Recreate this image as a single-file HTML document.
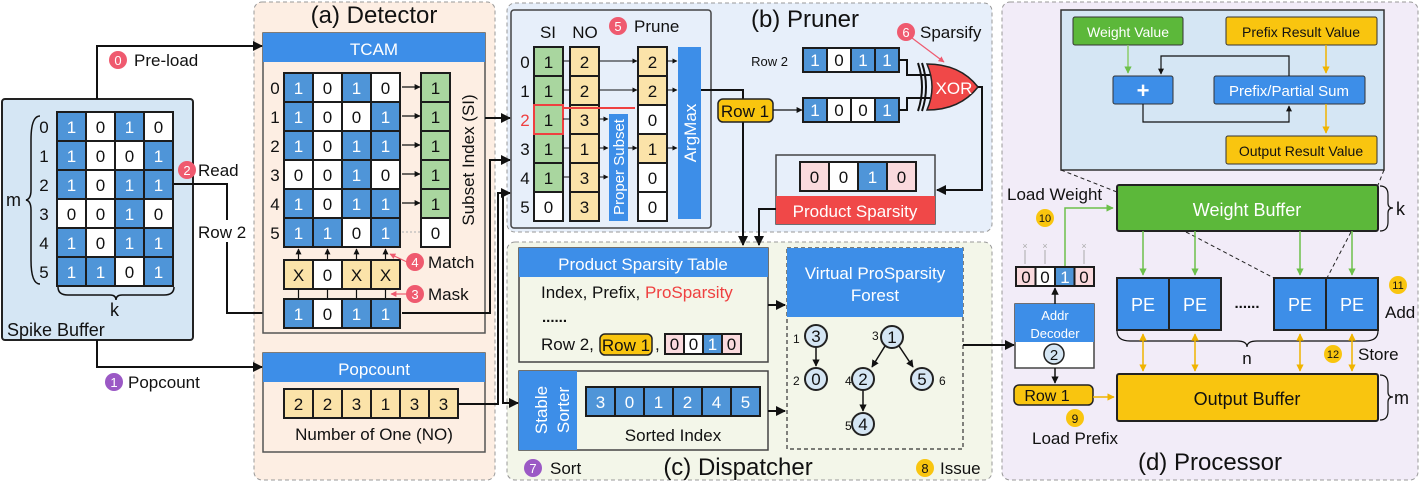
<!DOCTYPE html>
<html><head><meta charset="utf-8"><style>
html,body{margin:0;padding:0;background:#fff}
svg{display:block;font-family:"Liberation Sans",sans-serif}
.b{fill:#4f95d8;stroke:#1c1c1c;stroke-width:2}
.w{fill:#fff;stroke:#1c1c1c;stroke-width:2}
.g{fill:#a9d69f;stroke:#1c1c1c;stroke-width:2}
.y{fill:#fbe3a9;stroke:#1c1c1c;stroke-width:2}
.p{fill:#fadadd;stroke:#1c1c1c;stroke-width:2}
.tw{fill:#fff;font-size:17px;text-anchor:middle}
.tk{fill:#111;font-size:17px;text-anchor:middle}
.ln{fill:none;stroke:#111;stroke-width:2}
.lbl{font-size:16px;fill:#111}
.hd{fill:#3d8ee8}
.ht{fill:#fff;font-size:17px;text-anchor:middle}
</style></head><body>
<svg width="1420" height="483" viewBox="0 0 1420 483" xmlns="http://www.w3.org/2000/svg">
<defs>
<marker id="a" viewBox="0 0 10 10" refX="9" refY="5" markerWidth="5" markerHeight="5" orient="auto"><path d="M0,0L10,5L0,10z" fill="#111"/></marker>
<marker id="ag" viewBox="0 0 10 10" refX="9" refY="5" markerWidth="5" markerHeight="5" orient="auto"><path d="M0,0L10,5L0,10z" fill="#6cc04a"/></marker>
<marker id="ay" viewBox="0 0 10 10" refX="9" refY="5" markerWidth="5" markerHeight="5" orient="auto-start-reverse"><path d="M0,0L10,5L0,10z" fill="#f0b400"/></marker>
<marker id="ar" viewBox="0 0 10 10" refX="9" refY="5" markerWidth="5" markerHeight="5" orient="auto"><path d="M0,0L10,5L0,10z" fill="#ef5a6f"/></marker>
</defs>

<!-- panels -->
<rect x="254" y="2" width="241" height="478" rx="8" fill="#fdeee3" stroke="#999" stroke-dasharray="4,3"/>
<rect x="507" y="3" width="485" height="229" rx="8" fill="#e7effa" stroke="#999" stroke-dasharray="4,3"/>
<rect x="507" y="242" width="485" height="238" rx="8" fill="#f3f6e9" stroke="#999" stroke-dasharray="4,3"/>
<rect x="1002" y="2" width="416" height="478" rx="8" fill="#f2ecf8" stroke="#999" stroke-dasharray="4,3"/>

<!-- Spike buffer -->
<rect x="2" y="99" width="191" height="241" rx="3" fill="#d5e6f4" stroke="#222" stroke-width="2"/>
<g transform="translate(57,112)">
<rect class="b" x="0" y="0" width="29" height="29"/><text class="tw" x="14.5" y="21">1</text>
<rect class="w" x="29" y="0" width="29" height="29"/><text class="tk" x="43.5" y="21">0</text>
<rect class="b" x="58" y="0" width="29" height="29"/><text class="tw" x="72.5" y="21">1</text>
<rect class="w" x="87" y="0" width="29" height="29"/><text class="tk" x="101.5" y="21">0</text>
<rect class="b" x="0" y="29" width="29" height="29"/><text class="tw" x="14.5" y="50">1</text>
<rect class="w" x="29" y="29" width="29" height="29"/><text class="tk" x="43.5" y="50">0</text>
<rect class="w" x="58" y="29" width="29" height="29"/><text class="tk" x="72.5" y="50">0</text>
<rect class="b" x="87" y="29" width="29" height="29"/><text class="tw" x="101.5" y="50">1</text>
<rect class="b" x="0" y="58" width="29" height="29"/><text class="tw" x="14.5" y="79">1</text>
<rect class="w" x="29" y="58" width="29" height="29"/><text class="tk" x="43.5" y="79">0</text>
<rect class="b" x="58" y="58" width="29" height="29"/><text class="tw" x="72.5" y="79">1</text>
<rect class="b" x="87" y="58" width="29" height="29"/><text class="tw" x="101.5" y="79">1</text>
<rect class="w" x="0" y="87" width="29" height="29"/><text class="tk" x="14.5" y="108">0</text>
<rect class="w" x="29" y="87" width="29" height="29"/><text class="tk" x="43.5" y="108">0</text>
<rect class="b" x="58" y="87" width="29" height="29"/><text class="tw" x="72.5" y="108">1</text>
<rect class="w" x="87" y="87" width="29" height="29"/><text class="tk" x="101.5" y="108">0</text>
<rect class="b" x="0" y="116" width="29" height="29"/><text class="tw" x="14.5" y="137">1</text>
<rect class="w" x="29" y="116" width="29" height="29"/><text class="tk" x="43.5" y="137">0</text>
<rect class="b" x="58" y="116" width="29" height="29"/><text class="tw" x="72.5" y="137">1</text>
<rect class="b" x="87" y="116" width="29" height="29"/><text class="tw" x="101.5" y="137">1</text>
<rect class="b" x="0" y="145" width="29" height="29"/><text class="tw" x="14.5" y="166">1</text>
<rect class="b" x="29" y="145" width="29" height="29"/><text class="tw" x="43.5" y="166">1</text>
<rect class="w" x="58" y="145" width="29" height="29"/><text class="tk" x="72.5" y="166">0</text>
<rect class="b" x="87" y="145" width="29" height="29"/><text class="tw" x="101.5" y="166">1</text>
</g>
<g class="tk" style="font-size:17px"><text x="44" y="133">0</text><text x="44" y="162">1</text><text x="44" y="191">2</text><text x="44" y="220">3</text><text x="44" y="249">4</text><text x="44" y="278">5</text></g>
<path class="ln" style="stroke-width:1.5" d="M40,116 Q31,116 31,140 L31,190 Q31,199 26,200 Q31,201 31,210 L31,260 Q31,284 40,284"/>
<text class="lbl" x="6" y="206" style="font-size:18px">m</text>
<path class="ln" style="stroke-width:1.5" d="M58,287 Q58,295 68,295 L110,295 Q116,295 116,300 Q116,295 122,295 L164,295 Q174,295 174,287"/>
<text class="lbl" x="110" y="316" style="font-size:18px">k</text>
<text class="lbl" x="7" y="336" style="font-size:18px">Spike Buffer</text>

<!-- connectors left -->
<path class="ln" d="M97,99 V46 H262" marker-end="url(#a)"/>
<circle cx="118" cy="60" r="9" fill="#ef5a6f"/><text class="tw" x="118" y="65" style="font-size:13px">0</text>
<text class="lbl" x="134" y="66" style="font-size:17px">Pre-load</text>
<path class="ln" d="M174,184 H227 V313 H283" marker-end="url(#a)"/>
<rect x="196" y="220" width="52" height="22" fill="#fff"/>
<text class="lbl" x="198" y="238" style="font-size:17px">Row 2</text>
<circle cx="187" cy="170" r="9" fill="#ef5a6f"/><text class="tw" x="187" y="175" style="font-size:13px">2</text>
<text class="lbl" x="198" y="176" style="font-size:17px">Read</text>
<path class="ln" d="M97,340 V367 H262" marker-end="url(#a)"/>
<circle cx="114" cy="382" r="9" fill="#9b59c5"/><text class="tw" x="114" y="387" style="font-size:13px">1</text>
<text class="lbl" x="128" y="388" style="font-size:17px">Popcount</text>

<!-- Detector -->
<text class="lbl" x="374" y="23" text-anchor="middle" style="font-size:24px">(a) Detector</text>
<rect x="263" y="33" width="222" height="300" fill="#fdeee3" stroke="#555" stroke-width="1.5"/>
<rect x="263" y="33" width="222" height="29" class="hd"/><text class="ht" x="374" y="55">TCAM</text>
<g class="tk" style="font-size:17px"><text x="275" y="94">0</text><text x="275" y="123">1</text><text x="275" y="152">2</text><text x="275" y="181">3</text><text x="275" y="210">4</text><text x="275" y="239">5</text></g>
<g transform="translate(284,73)">
<rect class="b" x="0" y="0" width="29" height="29"/><text class="tw" x="14.5" y="21">1</text>
<rect class="w" x="29" y="0" width="29" height="29"/><text class="tk" x="43.5" y="21">0</text>
<rect class="b" x="58" y="0" width="29" height="29"/><text class="tw" x="72.5" y="21">1</text>
<rect class="w" x="87" y="0" width="29" height="29"/><text class="tk" x="101.5" y="21">0</text>
<rect class="b" x="0" y="29" width="29" height="29"/><text class="tw" x="14.5" y="50">1</text>
<rect class="w" x="29" y="29" width="29" height="29"/><text class="tk" x="43.5" y="50">0</text>
<rect class="w" x="58" y="29" width="29" height="29"/><text class="tk" x="72.5" y="50">0</text>
<rect class="b" x="87" y="29" width="29" height="29"/><text class="tw" x="101.5" y="50">1</text>
<rect class="b" x="0" y="58" width="29" height="29"/><text class="tw" x="14.5" y="79">1</text>
<rect class="w" x="29" y="58" width="29" height="29"/><text class="tk" x="43.5" y="79">0</text>
<rect class="b" x="58" y="58" width="29" height="29"/><text class="tw" x="72.5" y="79">1</text>
<rect class="b" x="87" y="58" width="29" height="29"/><text class="tw" x="101.5" y="79">1</text>
<rect class="w" x="0" y="87" width="29" height="29"/><text class="tk" x="14.5" y="108">0</text>
<rect class="w" x="29" y="87" width="29" height="29"/><text class="tk" x="43.5" y="108">0</text>
<rect class="b" x="58" y="87" width="29" height="29"/><text class="tw" x="72.5" y="108">1</text>
<rect class="w" x="87" y="87" width="29" height="29"/><text class="tk" x="101.5" y="108">0</text>
<rect class="b" x="0" y="116" width="29" height="29"/><text class="tw" x="14.5" y="137">1</text>
<rect class="w" x="29" y="116" width="29" height="29"/><text class="tk" x="43.5" y="137">0</text>
<rect class="b" x="58" y="116" width="29" height="29"/><text class="tw" x="72.5" y="137">1</text>
<rect class="b" x="87" y="116" width="29" height="29"/><text class="tw" x="101.5" y="137">1</text>
<rect class="b" x="0" y="145" width="29" height="29"/><text class="tw" x="14.5" y="166">1</text>
<rect class="b" x="29" y="145" width="29" height="29"/><text class="tw" x="43.5" y="166">1</text>
<rect class="w" x="58" y="145" width="29" height="29"/><text class="tk" x="72.5" y="166">0</text>
<rect class="b" x="87" y="145" width="29" height="29"/><text class="tw" x="101.5" y="166">1</text>
<!-- arrows to SI -->
<path class="ln" style="stroke-width:1.2" d="M118,14H136" marker-end="url(#a)"/>
<path class="ln" style="stroke-width:1.2" d="M118,43H136" marker-end="url(#a)"/>
<path class="ln" style="stroke-width:1.2" d="M118,72H136" marker-end="url(#a)"/>
<path class="ln" style="stroke-width:1.2" d="M118,101H136" marker-end="url(#a)"/>
<path class="ln" style="stroke-width:1.2" d="M118,130H136" marker-end="url(#a)"/>
<path d="M118,159H136" stroke="#bbb" stroke-width="1.2" stroke-dasharray="2,2"/>
<!-- SI -->
<rect class="g" x="137" y="0" width="29" height="29"/><text class="tk" x="151.5" y="21">1</text>
<rect class="g" x="137" y="29" width="29" height="29"/><text class="tk" x="151.5" y="50">1</text>
<rect class="g" x="137" y="58" width="29" height="29"/><text class="tk" x="151.5" y="79">1</text>
<rect class="g" x="137" y="87" width="29" height="29"/><text class="tk" x="151.5" y="108">1</text>
<rect class="g" x="137" y="116" width="29" height="29"/><text class="tk" x="151.5" y="137">1</text>
<rect class="w" x="137" y="145" width="29" height="29"/><text class="tk" x="151.5" y="166">0</text>
<!-- mask -->
<rect class="y" x="0" y="187" width="29" height="29"/><text class="tk" x="14.5" y="208">X</text>
<rect class="w" x="29" y="187" width="29" height="29"/><text class="tk" x="43.5" y="208">0</text>
<rect class="y" x="58" y="187" width="29" height="29"/><text class="tk" x="72.5" y="208">X</text>
<rect class="y" x="87" y="187" width="29" height="29"/><text class="tk" x="101.5" y="208">X</text>
<path class="ln" style="stroke-width:1.2" d="M14.5,187V176" marker-end="url(#a)"/>
<path class="ln" style="stroke-width:1.2" d="M43.5,187V176" marker-end="url(#a)"/>
<path class="ln" style="stroke-width:1.2" d="M72.5,187V176" marker-end="url(#a)"/>
<path class="ln" style="stroke-width:1.2" d="M101.5,187V176" marker-end="url(#a)"/>
<path class="ln" style="stroke-width:1.2" d="M14.5,216V226M43.5,216V226M72.5,216V226M101.5,216V226"/>
<!-- input row -->
<rect class="b" x="0" y="226" width="29" height="29"/><text class="tw" x="14.5" y="247">1</text>
<rect class="w" x="29" y="226" width="29" height="29"/><text class="tk" x="43.5" y="247">0</text>
<rect class="b" x="58" y="226" width="29" height="29"/><text class="tw" x="72.5" y="247">1</text>
<rect class="b" x="87" y="226" width="29" height="29"/><text class="tw" x="101.5" y="247">1</text>
</g>
<text class="lbl" transform="translate(474,160) rotate(-90)" text-anchor="middle" style="font-size:17px">Subset Index (SI)</text>
<path d="M407,262 L390,254" stroke="#ef5a6f" stroke-width="1.2" marker-end="url(#ar)"/>
<circle cx="415" cy="262" r="9" fill="#ef5a6f"/><text class="tw" x="415" y="267" style="font-size:13px">4</text>
<text class="lbl" x="428" y="268" style="font-size:17px">Match</text>
<path d="M407,294 L391,294" stroke="#ef5a6f" stroke-width="1.2" marker-end="url(#ar)"/>
<circle cx="415" cy="294" r="9" fill="#ef5a6f"/><text class="tw" x="415" y="299" style="font-size:13px">3</text>
<text class="lbl" x="428" y="300" style="font-size:17px">Mask</text>

<!-- popcount -->
<rect x="263" y="353" width="222" height="99" fill="#fdeee3" stroke="#555" stroke-width="1.5"/>
<rect x="263" y="353" width="222" height="29" class="hd"/><text class="ht" x="374" y="375">Popcount</text>
<g transform="translate(284,389)">
<rect class="y" x="0" y="0" width="29" height="29"/><text class="tk" x="14.5" y="21">2</text>
<rect class="y" x="29" y="0" width="29" height="29"/><text class="tk" x="43.5" y="21">2</text>
<rect class="y" x="58" y="0" width="29" height="29"/><text class="tk" x="72.5" y="21">3</text>
<rect class="y" x="87" y="0" width="29" height="29"/><text class="tk" x="101.5" y="21">1</text>
<rect class="y" x="116" y="0" width="29" height="29"/><text class="tk" x="130.5" y="21">3</text>
<rect class="y" x="145" y="0" width="29" height="29"/><text class="tk" x="159.5" y="21">3</text>
</g>
<text class="lbl" x="374" y="440" text-anchor="middle" style="font-size:17px">Number of One (NO)</text>

<!-- detector to pruner lines -->
<path class="ln" d="M485,118 H510" marker-end="url(#a)"/>
<path class="ln" d="M402,313 H490 V160 H510" marker-end="url(#a)"/>
<path class="ln" d="M458,404 H498 V193 H510" marker-end="url(#a)"/>
<path class="ln" d="M503,193 V403 H518" marker-end="url(#a)"/>

<!-- Pruner -->
<text class="lbl" x="805" y="27" text-anchor="middle" style="font-size:24px">(b) Pruner</text>
<rect x="511" y="10" width="200" height="218" rx="3" fill="#e7effa" stroke="#444" stroke-width="1.5"/>
<text class="lbl" x="548" y="38" text-anchor="middle" style="font-size:17px">SI</text>
<text class="lbl" x="585" y="38" text-anchor="middle" style="font-size:17px">NO</text>
<circle cx="618" cy="26" r="9" fill="#ef5a6f"/><text class="tw" x="618" y="31" style="font-size:13px">5</text>
<text class="lbl" x="634" y="32" style="font-size:17px">Prune</text>
<g style="font-size:17px" class="tk"><text x="525" y="68">0</text><text x="525" y="97">1</text><text x="525" y="126" style="fill:#ef4040">2</text><text x="525" y="155">3</text><text x="525" y="184">4</text><text x="525" y="213">5</text></g>
<g transform="translate(534,47)">
<rect class="g" x="0" y="0" width="29" height="29"/><text class="tk" x="14.5" y="21">1</text>
<rect class="g" x="0" y="29" width="29" height="29"/><text class="tk" x="14.5" y="50">1</text>
<rect class="g" x="0" y="58" width="29" height="29"/><text class="tk" x="14.5" y="79">1</text>
<rect class="g" x="0" y="87" width="29" height="29"/><text class="tk" x="14.5" y="108">1</text>
<rect class="g" x="0" y="116" width="29" height="29"/><text class="tk" x="14.5" y="137">1</text>
<rect class="w" x="0" y="145" width="29" height="29"/><text class="tk" x="14.5" y="166">0</text>
<rect x="0" y="58" width="29" height="29" fill="none" stroke="#ef4040" stroke-width="2"/>
<rect class="y" x="36" y="0" width="29" height="29"/><text class="tk" x="50.5" y="21">2</text>
<rect class="y" x="36" y="29" width="29" height="29"/><text class="tk" x="50.5" y="50">2</text>
<rect class="y" x="36" y="58" width="29" height="29"/><text class="tk" x="50.5" y="79">3</text>
<rect class="y" x="36" y="87" width="29" height="29"/><text class="tk" x="50.5" y="108">1</text>
<rect class="y" x="36" y="116" width="29" height="29"/><text class="tk" x="50.5" y="137">3</text>
<rect class="y" x="36" y="145" width="29" height="29"/><text class="tk" x="50.5" y="166">3</text>
<path class="ln" style="stroke-width:1" d="M29,14H36M29,43H36M29,72H36M29,101H36M29,130H36"/>
<rect x="75" y="67" width="19" height="107" fill="#3d8ee8"/>
<text transform="translate(90,120) rotate(-90)" text-anchor="middle" style="font-size:15px;fill:#fff">Proper Subset</text>
<path class="ln" style="stroke-width:1" d="M65,14H103" marker-end="url(#a)"/>
<path class="ln" style="stroke-width:1" d="M65,43H103" marker-end="url(#a)"/>
<path class="ln" style="stroke-width:1" d="M65,72H74" marker-end="url(#a)"/>
<path class="ln" style="stroke-width:1" d="M65,101H74" marker-end="url(#a)"/>
<path class="ln" style="stroke-width:1" d="M65,130H74" marker-end="url(#a)"/>
<path class="ln" style="stroke-width:1" d="M94,101H103" marker-end="url(#a)"/>
<path d="M29,61H101" stroke="#ef4040" stroke-width="2"/>
<rect class="y" x="104" y="0" width="29" height="29"/><text class="tk" x="118.5" y="21">2</text>
<rect class="y" x="104" y="29" width="29" height="29"/><text class="tk" x="118.5" y="50">2</text>
<rect class="w" x="104" y="58" width="29" height="29"/><text class="tk" x="118.5" y="79">0</text>
<rect class="y" x="104" y="87" width="29" height="29"/><text class="tk" x="118.5" y="108">1</text>
<rect class="w" x="104" y="116" width="29" height="29"/><text class="tk" x="118.5" y="137">0</text>
<rect class="w" x="104" y="145" width="29" height="29"/><text class="tk" x="118.5" y="166">0</text>
<path class="ln" style="stroke-width:1" d="M133,14H143" marker-end="url(#a)"/>
<path class="ln" style="stroke-width:1" d="M133,43H143" marker-end="url(#a)"/>
<path class="ln" style="stroke-width:1" d="M133,101H143" marker-end="url(#a)"/>
<rect x="144" y="0" width="23" height="172" fill="#3d8ee8"/>
<text transform="translate(162,86) rotate(-90)" text-anchor="middle" style="font-size:17px;fill:#fff">ArgMax</text>
</g>
<path class="ln" d="M701,90 H743 V245" marker-end="url(#a)"/>
<rect x="718" y="99" width="55" height="23" rx="5" fill="#f9c50f" stroke="#222" stroke-width="1.5"/>
<text class="lbl" x="745" y="117" text-anchor="middle" style="font-size:17px">Row 1</text>
<path class="ln" style="stroke-width:1.2" d="M773,110 H802" marker-end="url(#a)"/>
<text class="lbl" x="788" y="66" text-anchor="end" style="font-size:13px">Row 2</text>
<g transform="translate(803,48)" style="font-size:16px">
<rect class="b" x="0" y="0" width="24" height="24"/><text class="tw" x="12" y="18">1</text>
<rect class="w" x="24" y="0" width="24" height="24"/><text class="tk" x="36" y="18">0</text>
<rect class="b" x="48" y="0" width="24" height="24"/><text class="tw" x="60" y="18">1</text>
<rect class="b" x="72" y="0" width="24" height="24"/><text class="tw" x="84" y="18">1</text>
<rect class="b" x="0" y="50" width="24" height="24"/><text class="tw" x="12" y="68">1</text>
<rect class="w" x="24" y="50" width="24" height="24"/><text class="tk" x="36" y="68">0</text>
<rect class="w" x="48" y="50" width="24" height="24"/><text class="tk" x="60" y="68">0</text>
<rect class="b" x="72" y="50" width="24" height="24"/><text class="tw" x="84" y="68">1</text>
</g>
<path class="ln" d="M899,60 H907 V75 H930 M899,110 H907 V98 H930"/>
<path class="ln" d="M918,63 Q926,87 918,111 M922,63 Q930,87 922,111"/>
<path d="M927,64 Q960,64 978,87 Q960,110 927,110 Q937,87 927,64z" fill="#f04848" stroke="#222" stroke-width="1.5"/>
<text x="954" y="94" text-anchor="middle" style="font-size:17px;fill:#fff">XOR</text>
<path class="ln" d="M978,87 H982 V190 H937" marker-end="url(#a)"/>
<path d="M912,38 L944,62" stroke="#ef5a6f" stroke-width="1.2" marker-end="url(#ar)"/>
<circle cx="906" cy="32" r="9" fill="#ef5a6f"/><text class="tw" x="906" y="37" style="font-size:13px">6</text>
<text class="lbl" x="920" y="38" style="font-size:17px">Sparsify</text>
<rect x="776" y="155" width="159" height="69" fill="#e7effa" stroke="#444" stroke-width="1.5"/>
<g transform="translate(800,162)">
<rect class="p" x="0" y="0" width="29" height="29"/><text class="tk" x="14.5" y="21">0</text>
<rect class="w" x="29" y="0" width="29" height="29"/><text class="tk" x="43.5" y="21">0</text>
<rect class="b" x="58" y="0" width="29" height="29"/><text class="tw" x="72.5" y="21">1</text>
<rect class="p" x="87" y="0" width="29" height="29"/><text class="tk" x="101.5" y="21">0</text>
</g>
<rect x="776" y="196" width="159" height="28" fill="#f04848"/>
<text x="855" y="217" text-anchor="middle" style="font-size:17px;fill:#fff">Product Sparsity</text>
<path class="ln" d="M776,209 H759 V245" marker-end="url(#a)"/>

<!-- Dispatcher -->
<rect x="519" y="248" width="249" height="114" fill="#f3f6e9" stroke="#444" stroke-width="1.5"/>
<rect x="519" y="248" width="249" height="29" class="hd"/><text class="ht" x="643" y="270">Product Sparsity Table</text>
<text class="lbl" x="541" y="298" style="font-size:17px">Index, Prefix, <tspan fill="#ef4040">ProSparsity</tspan></text>
<text class="lbl" x="542" y="322" style="font-size:15px;font-weight:bold">......</text>
<text class="lbl" x="541" y="350" style="font-size:17px">Row 2,</text>
<rect x="600" y="334" width="52" height="21" rx="5" fill="#f9c50f" stroke="#222" stroke-width="1.5"/>
<text class="lbl" x="626" y="351" text-anchor="middle" style="font-size:17px">Row 1</text>
<text class="lbl" x="655" y="350" style="font-size:17px">,</text>
<g transform="translate(665,334)" style="font-size:16px">
<rect class="p" x="0" y="0" width="19" height="20"/><text class="tk" x="9.5" y="16">0</text>
<rect class="w" x="19" y="0" width="19" height="20"/><text class="tk" x="28.5" y="16">0</text>
<rect class="b" x="38" y="0" width="19" height="20"/><text class="tw" x="47.5" y="16">1</text>
<rect class="p" x="57" y="0" width="19" height="20"/><text class="tk" x="66.5" y="16">0</text>
</g>
<rect x="519" y="371" width="249" height="79" fill="#f3f6e9" stroke="#444" stroke-width="1.5"/>
<rect x="519" y="371" width="58" height="79" class="hd"/>
<text transform="translate(547,410) rotate(-90)" text-anchor="middle" style="font-size:17px;fill:#fff">Stable</text>
<text transform="translate(569,410) rotate(-90)" text-anchor="middle" style="font-size:17px;fill:#fff">Sorter</text>
<g transform="translate(586,387)">
<rect class="b" x="0" y="0" width="29" height="29"/><text class="tw" x="14.5" y="21">3</text>
<rect class="b" x="29" y="0" width="29" height="29"/><text class="tw" x="43.5" y="21">0</text>
<rect class="b" x="58" y="0" width="29" height="29"/><text class="tw" x="72.5" y="21">1</text>
<rect class="b" x="87" y="0" width="29" height="29"/><text class="tw" x="101.5" y="21">2</text>
<rect class="b" x="116" y="0" width="29" height="29"/><text class="tw" x="130.5" y="21">4</text>
<rect class="b" x="145" y="0" width="29" height="29"/><text class="tw" x="159.5" y="21">5</text>
</g>
<text class="lbl" x="673" y="441" text-anchor="middle" style="font-size:17px">Sorted Index</text>
<path class="ln" d="M768,305 H785" marker-end="url(#a)"/>
<path class="ln" d="M768,411 H785" marker-end="url(#a)"/>
<rect x="787" y="248" width="176" height="201" fill="#f3f6e9" stroke="#333" stroke-width="1.2" stroke-dasharray="4,3"/>
<rect x="787" y="248" width="176" height="69" class="hd"/>
<text class="ht" x="875" y="279">Virtual ProSparsity</text>
<text class="ht" x="875" y="301">Forest</text>
<g style="font-size:16px">
<path class="ln" style="stroke-width:1.5" d="M816,347 V366" marker-end="url(#a)"/>
<path class="ln" style="stroke-width:1.5" d="M885,346 L872,367" marker-end="url(#a)"/>
<path class="ln" style="stroke-width:1.5" d="M899,346 L913,367" marker-end="url(#a)"/>
<path class="ln" style="stroke-width:1.5" d="M863,390 V411" marker-end="url(#a)"/>
<circle cx="816" cy="336" r="11" fill="#d5e6f4" stroke="#222" stroke-width="2"/><text class="tk" x="816" y="342">3</text>
<circle cx="816" cy="379" r="11" fill="#d5e6f4" stroke="#222" stroke-width="2"/><text class="tk" x="816" y="385">0</text>
<circle cx="892" cy="337" r="11" fill="#d5e6f4" stroke="#222" stroke-width="2"/><text class="tk" x="892" y="343">1</text>
<circle cx="863" cy="379" r="11" fill="#d5e6f4" stroke="#222" stroke-width="2"/><text class="tk" x="863" y="385">2</text>
<circle cx="922" cy="379" r="11" fill="#d5e6f4" stroke="#222" stroke-width="2"/><text class="tk" x="922" y="385">5</text>
<circle cx="863" cy="424" r="11" fill="#d5e6f4" stroke="#222" stroke-width="2"/><text class="tk" x="863" y="430">4</text>
</g>
<g class="lbl" style="font-size:12px"><text x="793" y="343">1</text><text x="793" y="385">2</text><text x="872" y="340">3</text><text x="845" y="385">4</text><text x="939" y="385">6</text><text x="845" y="430">5</text></g>
<circle cx="533" cy="468" r="9" fill="#9b59c5"/><text class="tw" x="533" y="473" style="font-size:13px">7</text>
<text class="lbl" x="550" y="474" style="font-size:17px">Sort</text>
<text class="lbl" x="738" y="475" text-anchor="middle" style="font-size:24px">(c) Dispatcher</text>
<circle cx="925" cy="468" r="9" fill="#f9c50f"/><text class="tk" x="925" y="473" style="font-size:13px">8</text>
<text class="lbl" x="940" y="474" style="font-size:17px">Issue</text>
<path class="ln" d="M963,345 H1014" marker-end="url(#a)"/>

<!-- Processor -->
<rect x="1061" y="10" width="323" height="160" fill="#d5e6f4" stroke="#333" stroke-width="1.5"/>
<rect x="1073" y="17" width="110" height="28" rx="2" fill="#5cb83a" stroke="#333"/>
<text x="1128" y="37" text-anchor="middle" style="font-size:14px;fill:#fff">Weight Value</text>
<rect x="1226" y="17" width="151" height="28" rx="2" fill="#f9c50f" stroke="#333"/>
<text x="1301" y="37" text-anchor="middle" style="font-size:14px;fill:#111">Prefix Result Value</text>
<rect x="1113" y="76" width="60" height="28" rx="2" fill="#3d8ee8" stroke="#333"/>
<text x="1143" y="98" text-anchor="middle" style="font-size:22px;fill:#fff;font-weight:bold">+</text>
<rect x="1214" y="76" width="151" height="28" rx="2" fill="#3d8ee8" stroke="#333"/>
<text x="1289" y="96" text-anchor="middle" style="font-size:15px;fill:#fff">Prefix/Partial Sum</text>
<rect x="1226" y="136" width="151" height="28" rx="2" fill="#f9c50f" stroke="#333"/>
<text x="1301" y="156" text-anchor="middle" style="font-size:14px;fill:#111">Output Result Value</text>
<path d="M1128,45 V73" stroke="#8ccf6a" stroke-width="1.5" marker-end="url(#ag)"/>
<path d="M1326,45 V73" stroke="#f0b400" stroke-width="1.5" marker-end="url(#ay)"/>
<path d="M1326,104 V133" stroke="#f0b400" stroke-width="1.5" marker-end="url(#ay)"/>
<path class="ln" style="stroke-width:1.2" d="M1289,76 V56 H1161 V74" marker-end="url(#a)"/>
<path class="ln" style="stroke-width:1.2" d="M1143,104 V122 H1289 V106" marker-end="url(#a)"/>
<path d="M1061,170 L1117,192 M1384,170 L1378,185 M1186,232 L1274,278 M1351,232 L1327,278" stroke="#222" stroke-dasharray="4,3" fill="none"/>
<rect x="1117" y="185" width="261" height="46" rx="2" fill="#5cb83a" stroke="#222" stroke-width="2"/>
<text x="1247" y="216" text-anchor="middle" style="font-size:18px;fill:#fff">Weight Buffer</text>
<path class="ln" style="stroke-width:1.2" d="M1380,186 Q1388,186 1388,195 L1388,203 Q1388,208 1393,208 Q1388,208 1388,213 L1388,222 Q1388,231 1380,231"/>
<text class="lbl" x="1396" y="215" style="font-size:18px">k</text>
<text class="lbl" x="1007" y="200" style="font-size:17px">Load Weight</text>
<circle cx="1045" cy="218" r="9" fill="#f9c50f"/><text class="tk" x="1045" y="222" style="font-size:11px">10</text>
<path d="M1065,266 V208 H1113" stroke="#6cc04a" stroke-width="1.5" fill="none" marker-end="url(#ag)"/>
<path d="M1143,231 V275" stroke="#6cc04a" stroke-width="1.5" marker-end="url(#ag)"/>
<path d="M1195,231 V275" stroke="#6cc04a" stroke-width="1.5" marker-end="url(#ag)"/>
<path d="M1300,231 V275" stroke="#6cc04a" stroke-width="1.5" marker-end="url(#ag)"/>
<path d="M1352,231 V275" stroke="#6cc04a" stroke-width="1.5" marker-end="url(#ag)"/>
<g style="font-size:18px">
<rect x="1117" y="278" width="52" height="52" fill="#3d8ee8" stroke="#222" stroke-width="2"/><text class="tw" x="1143" y="311" style="font-size:18px">PE</text>
<rect x="1169" y="278" width="52" height="52" fill="#3d8ee8" stroke="#222" stroke-width="2"/><text class="tw" x="1195" y="311" style="font-size:18px">PE</text>
<rect x="1274" y="278" width="52" height="52" fill="#3d8ee8" stroke="#222" stroke-width="2"/><text class="tw" x="1300" y="311" style="font-size:18px">PE</text>
<rect x="1326" y="278" width="52" height="52" fill="#3d8ee8" stroke="#222" stroke-width="2"/><text class="tw" x="1352" y="311" style="font-size:18px">PE</text>
</g>
<text class="lbl" x="1247" y="308" text-anchor="middle" style="font-size:15px;font-weight:bold">......</text>
<circle cx="1398" cy="285" r="9" fill="#f9c50f"/><text class="tk" x="1398" y="289" style="font-size:11px">11</text>
<text class="lbl" x="1385" y="318" style="font-size:17px">Add</text>
<path class="ln" style="stroke-width:1.2" d="M1117,331 Q1117,341 1130,341 L1237,341 Q1247,341 1247,347 Q1247,341 1257,341 L1365,341 Q1378,341 1378,331"/>
<text class="lbl" x="1247" y="364" text-anchor="middle" style="font-size:17px">n</text>
<circle cx="1333" cy="354" r="9" fill="#f9c50f"/><text class="tk" x="1333" y="358" style="font-size:11px">12</text>
<text class="lbl" x="1358" y="360" style="font-size:17px">Store</text>
<path d="M1143,334 V371" stroke="#f0b400" stroke-width="1.5" marker-start="url(#ay)" marker-end="url(#ay)"/>
<path d="M1195,334 V371" stroke="#f0b400" stroke-width="1.5" marker-start="url(#ay)" marker-end="url(#ay)"/>
<path d="M1300,334 V371" stroke="#f0b400" stroke-width="1.5" marker-start="url(#ay)" marker-end="url(#ay)"/>
<path d="M1352,334 V371" stroke="#f0b400" stroke-width="1.5" marker-start="url(#ay)" marker-end="url(#ay)"/>
<rect x="1117" y="374" width="261" height="47" rx="2" fill="#f9c50f" stroke="#222" stroke-width="2"/>
<text x="1247" y="405" text-anchor="middle" style="font-size:18px;fill:#111">Output Buffer</text>
<path class="ln" style="stroke-width:1.2" d="M1380,375 Q1388,375 1388,384 L1388,392 Q1388,397 1393,397 Q1388,397 1388,402 L1388,411 Q1388,420 1380,420"/>
<text class="lbl" x="1394" y="404" style="font-size:18px">m</text>
<g stroke="#aaa" stroke-width="1"><path d="M1025,264V250M1045,264V250M1084,264V250"/></g>
<g style="font-size:9px;fill:#aaa" text-anchor="middle"><text x="1025" y="249">×</text><text x="1045" y="249">×</text><text x="1084" y="249">×</text></g>
<g transform="translate(1016,267)" style="font-size:16px">
<rect class="p" x="0" y="0" width="19.5" height="19"/><text class="tk" x="10" y="16">0</text>
<rect class="w" x="19.5" y="0" width="19.5" height="19"/><text class="tk" x="29" y="16">0</text>
<rect class="b" x="39" y="0" width="19.5" height="19"/><text class="tw" x="49" y="16">1</text>
<rect class="p" x="58.5" y="0" width="19.5" height="19"/><text class="tk" x="68" y="16">0</text>
</g>
<rect x="1015" y="304" width="79" height="64" fill="#fff" stroke="#444" stroke-width="1.5"/>
<rect x="1015" y="304" width="79" height="38" class="hd"/>
<text x="1055" y="320" text-anchor="middle" style="font-size:13px;fill:#fff">Addr</text>
<text x="1055" y="338" text-anchor="middle" style="font-size:13px;fill:#fff">Decoder</text>
<circle cx="1054" cy="354" r="10" fill="#d5e6f4" stroke="#222" stroke-width="1.5"/><text class="tk" x="1054" y="360" style="font-size:15px">2</text>
<path class="ln" style="stroke-width:1.5" d="M1055,304 V288" marker-end="url(#a)"/>
<path class="ln" style="stroke-width:1.5" d="M1055,368 V383" marker-end="url(#a)"/>
<rect x="1014" y="385" width="79" height="20" rx="5" fill="#f9c50f" stroke="#222" stroke-width="1.5"/>
<text class="lbl" x="1047" y="401" text-anchor="middle" style="font-size:16px">Row 1</text>
<path d="M1093,397 H1114" stroke="#f0b400" stroke-width="1.5" marker-end="url(#ay)"/>
<circle cx="1075" cy="418" r="9" fill="#f9c50f"/><text class="tk" x="1075" y="423" style="font-size:12px">9</text>
<text class="lbl" x="1032" y="444" style="font-size:17px">Load Prefix</text>
<text class="lbl" x="1210" y="470" text-anchor="middle" style="font-size:24px">(d) Processor</text>
</svg>
</body></html>
